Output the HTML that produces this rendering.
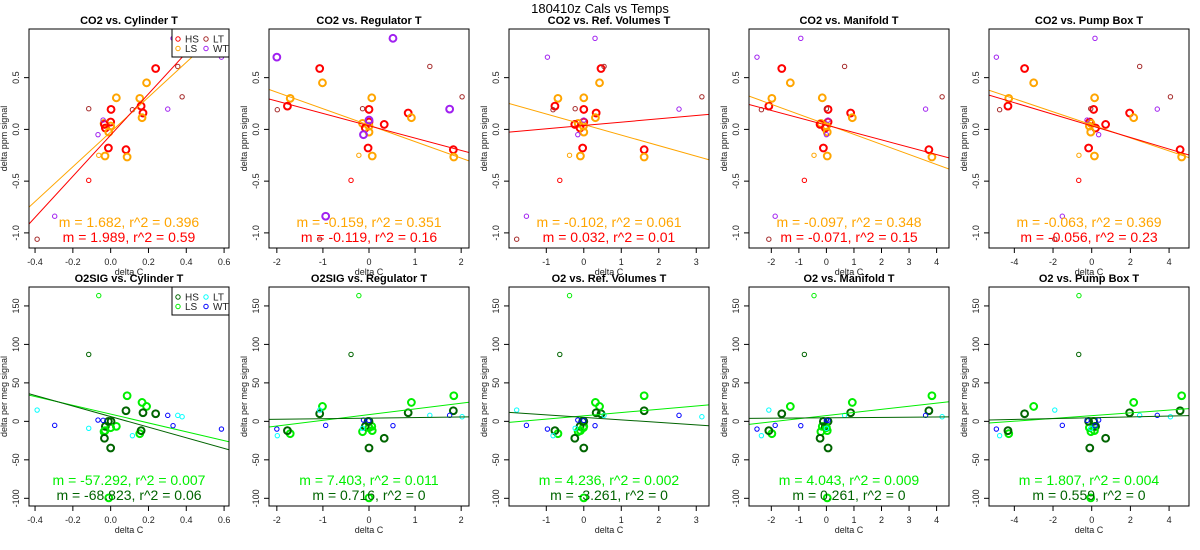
<!DOCTYPE html>
<html><head><meta charset="utf-8">
<style>
html,body{margin:0;padding:0;background:#fff;}
svg{display:block;font-family:"Liberation Sans",Arial,sans-serif;}
</style></head>
<body>
<svg id="chart" width="1200" height="550" viewBox="0 0 1200 550" xmlns="http://www.w3.org/2000/svg">
<rect width="1200" height="550" fill="#fff"/>
<text x="600" y="13" text-anchor="middle" font-size="13">180410z   Cals vs Temps</text>
</svg>
<script>
// ---- data ----
const groups = ['HS','LS','LS','LS','HS','HS','HS','LS','HS','LS','HS','LS','LS','HS','HS','LS','LS','HS','LT','LT','LT','LT','LT','WT','WT','WT','WT','WT','WT','HS','LS'];
const thick  = [1,1,1,1,1,1,1,1,1,1,1,1,1,1,1,1,1,1,0,0,0,0,0,0,0,0,0,0,0,0,0];
const yCO2 = [0.588,0.45,0.305,0.30,0.193,0.225,0.158,0.113,0.071,0.058,0.013,0.032,-0.026,-0.18,-0.196,-0.257,-0.267,0.048,0.2,0.19,0.608,0.315,-1.061,0.09,-0.051,0.196,0.698,-0.839,0.88,-0.492,-0.25];
const yO2  = [9.9,19.4,-6.5,-16,0,-12.1,11.2,24.6,-34.6,-13.4,-6.5,-8.2,-99.4,0,13.8,-12,33.3,-22,-9,-18.6,7.8,6,14.7,1.3,1.7,7.8,-10,-5.2,-5.6,87,163.4];
const xCylinder = [0.238,0.19,0.03,0.154,0.002,0.161,0.171,0.166,0.0,-0.035,-0.028,0.0,-0.01,-0.012,0.081,-0.03,0.087,-0.033,-0.116,0.115,0.355,0.378,-0.389,-0.04,-0.067,0.302,0.586,-0.296,0.33,-0.116,-0.063];
const xRegulator = [-1.07,-1.01,0.06,-1.71,0.0,-1.77,0.85,0.92,0.0,-0.14,-0.08,0.0,0.0,-0.02,1.83,0.07,1.84,0.33,-0.14,-1.99,1.32,2.02,-1.07,0,-0.12,1.75,-2.0,-0.94,0.52,-0.39,-0.22];
const xRefVol = [0.46,0.42,0.0,-0.69,0.0,-0.77,0.33,0.31,0.0,-0.15,-0.1,-0.01,0.0,-0.03,1.61,-0.09,1.61,-0.24,-0.23,-0.82,0.54,3.15,-1.79,0,-0.16,2.54,-0.97,-1.53,0.3,-0.64,-0.38];
const xManifold = [-1.62,-1.31,-0.15,-1.98,0.06,-2.09,0.88,0.94,0.06,-0.2,-0.04,0,0.03,-0.11,3.72,0.03,3.83,-0.23,0,-2.36,0.66,4.2,-2.09,0.06,0,3.6,-2.52,-1.86,-0.93,-0.8,-0.45];
const xPumpBox = [-3.47,-3.0,0.15,-4.29,0.1,-4.33,1.96,2.17,-0.1,-0.04,0.2,-0.12,-0.05,-0.16,4.57,0.14,4.65,0.72,-0.05,-4.76,2.48,4.07,-1.91,-0.24,0.36,3.39,-4.93,-1.52,0.17,-0.67,-0.66];
const xSets = [xCylinder,xRegulator,xRefVol,xManifold,xPumpBox];
const xNames = ['Cylinder T','Regulator T','Ref. Volumes T','Manifold T','Pump Box T'];
const xTicks = [[-0.4,-0.2,0.0,0.2,0.4,0.6],[-2,-1,0,1,2],[-1,0,1,2,3],[-2,-1,0,1,2,3,4],[-4,-2,0,2,4]];
const xTickLabels = [['-0.4','-0.2','0.0','0.2','0.4','0.6'],['-2','-1','0','1','2'],['-1','0','1','2','3'],['-2','-1','0','1','2','3','4'],['-4','-2','0','2','4']];
const yTicksCO2 = [-1.0,-0.5,0.0,0.5];
const yTickLabelsCO2 = ['-1.0','-0.5','0.0','0.5'];
const yTicksO2 = [-100,-50,0,50,100,150];
const yTickLabelsO2 = ['-100','-50','0','50','100','150'];
// regression: slope, intercept, r^2 text
const slopeHS_CO2 = [1.989,-0.119,0.032,-0.071,-0.056];
const interHS_CO2 = [-0.055,0.035,0.038,0.041,0.034];
const r2HS_CO2 = ['0.59','0.16','0.01','0.15','0.23'];
const slopeLS_CO2 = [1.682,-0.159,-0.102,-0.097,-0.063];
const interLS_CO2 = [-0.025,0.041,0.047,0.049,0.044];
const r2LS_CO2 = ['0.396','0.351','0.061','0.348','0.369'];
const slopeHS_O2 = [-68.823,0.716,-3.261,0.261,0.559];
const interHS_O2 = [6.2,4.2,5.2,4.6,4.7];
const r2HS_O2 = ['0.06','0','0','0','0'];
const slopeLS_O2 = [-57.292,7.403,4.236,4.043,1.807];
const interLS_O2 = [9.4,8.8,7.2,7.5,7.4];
const r2LS_O2 = ['0.007','0.011','0.002','0.009','0.004'];
const slopeFmtHS_CO2 = ['1.989','-0.119','0.032','-0.071','-0.056'];
const slopeFmtLS_CO2 = ['1.682','-0.159','-0.102','-0.097','-0.063'];
const slopeFmtHS_O2 = ['-68.823','0.716','-3.261','0.261','0.559'];
const slopeFmtLS_O2 = ['-57.292','7.403','4.236','4.043','1.807'];

// ---- layout ----
const NS='http://www.w3.org/2000/svg';
const svg=document.getElementById('chart');
const xRanges=[[-0.432,0.626],[-2.17,2.17],[-1.995,3.34],[-2.81,4.45],[-5.31,5.03]];
const rows=[
 {y0:29,y1:248,yr:[-1.146,0.97],ys:yCO2,ticks:yTicksCO2,tl:yTickLabelsCO2,ylab:'delta ppm signal',pre:['CO2','CO2','CO2','CO2','CO2'],
  col:{HS:'#ff0000',LS:'#ffa500',LT:'#a52a2a',WT:'#a020f0'},sH:slopeHS_CO2,iH:interHS_CO2,rH:r2HS_CO2,sL:slopeLS_CO2,iL:interLS_CO2,rL:r2LS_CO2,fH:slopeFmtHS_CO2,fL:slopeFmtLS_CO2},
 {y0:287,y1:506,yr:[-110,174.6],ys:yO2,ticks:yTicksO2,tl:yTickLabelsO2,ylab:'delta per meg signal',pre:['O2SIG','O2SIG','O2','O2','O2'],
  col:{HS:'#006400',LS:'#00ee00',LT:'#00ffff',WT:'#0000ff'},sH:slopeHS_O2,iH:interHS_O2,rH:r2HS_O2,sL:slopeLS_O2,iL:interLS_O2,rL:r2LS_O2,fH:slopeFmtHS_O2,fL:slopeFmtLS_O2}
];
function el(tag,attrs,parent){const e=document.createElementNS(NS,tag);for(const k in attrs)e.setAttribute(k,attrs[k]);(parent||svg).appendChild(e);return e;}

rows.forEach((row,ri)=>{
 for(let p=0;p<5;p++){
  const x0=240*p+29,x1=x0+200,y0=row.y0,y1=row.y1,xr=xRanges[p];
  const sx=v=>x0+(v-xr[0])/(xr[1]-xr[0])*200;
  const sy=v=>y1-(v-row.yr[0])/(row.yr[1]-row.yr[0])*(y1-y0);
  const g=el('g',{});
  
  
  const cid='clip'+ri+p;
  const cp=el('clipPath',{id:cid},g);el('rect',{x:x0,y:y0,width:200,height:y1-y0},cp);
  const t=el('text',{x:x0+100,y:y0-5,'text-anchor':'middle','font-size':'11','font-weight':'bold'},g);
  t.textContent=row.pre[p]+' vs. '+xNames[p];
  
  
  // x ticks
  xTicks[p].forEach((v,i)=>{
   const X=sx(v);
   el('line',{x1:X,x2:X,y1:y1,y2:y1+5,stroke:'#000','stroke-width':1},g);
   const tt=el('text',{x:X,y:y1+17,'text-anchor':'middle','font-size':'9',fill:'#222'},g);
   tt.textContent=xTickLabels[p][i];
   
   
  });
  const xl=el('text',{x:x0+100,y:y1+27,'text-anchor':'middle','font-size':'9',fill:'#222'},g);
  xl.textContent='delta C';
  
  
  row.ticks.forEach((v,i)=>{
   const Y=sy(v);
   el('line',{x1:x0-5,x2:x0,y1:Y,y2:Y,stroke:'#000','stroke-width':1},g);
   const tt=el('text',{x:x0-10,y:Y,'text-anchor':'middle','font-size':'9',fill:'#222',transform:'rotate(-90 '+(x0-10)+' '+Y+')'},g);
   tt.textContent=row.tl[i];
   
   
  });
  const yc=(y0+y1)/2;
  const yl=el('text',{x:x0-22,y:yc,'text-anchor':'middle','font-size':'9',fill:'#222',transform:'rotate(-90 '+(x0-22)+' '+yc+')'},g);
  yl.textContent=row.ylab;
  
  
  // points
  const pg=el('g',{'clip-path':'url(#'+cid+')'},g);
  const xs=xSets[p];
  for(let i=0;i<groups.length;i++){
   const gr=groups[i];
   const big=thick[i]||(ri===0&&p===1&&gr==='WT');
   const c=el('circle',{cx:sx(xs[i]),cy:sy(row.ys[i]),r:big?3.4:2.2,fill:'none',stroke:row.col[gr],'stroke-width':big?2:1},pg);
   
   
  }
  // regression lines
  [[row.sL,row.iL,'LS'],[row.sH,row.iH,'HS']].forEach(([s,b,gr])=>{
   const l=el('line',{x1:sx(xr[0]),y1:sy(b[p]+s[p]*xr[0]),x2:sx(xr[1]),y2:sy(b[p]+s[p]*xr[1]),stroke:row.col[gr],'stroke-width':1},pg);
   
   
  });
  el('rect',{x:x0,y:y0,width:200,height:y1-y0,fill:'none',stroke:'#000','stroke-width':1},g);
  // stats
  const s1=el('text',{x:x0+100,y:y1-21,'text-anchor':'middle','font-size':'14',fill:row.col.LS},g);
  s1.textContent='m = '+row.fL[p]+', r^2 = '+row.rL[p];
  
  
  const s2=el('text',{x:x0+100,y:y1-6,'text-anchor':'middle','font-size':'14',fill:row.col.HS},g);
  s2.textContent='m = '+row.fH[p]+', r^2 = '+row.rH[p];
  
  
  // legend
  if(p===0){
   const lg=el('g',{},g);
   
   
   el('rect',{x:172,y:y0,width:57,height:28,fill:'#fff',stroke:'#000','stroke-width':1},lg);
   [['HS',178,y0+10],['LS',178,y0+19.5],['LT',206,y0+10],['WT',206,y0+19.5]].forEach(([n,lx,ly])=>{
    el('circle',{cx:lx,cy:ly,r:2.2,fill:'none',stroke:row.col[n],'stroke-width':1},lg);
    const lt=el('text',{x:lx+7,y:ly+3.5,'font-size':'10',fill:'#222'},lg);
    lt.textContent=n;
    
    
   });
  }
 }
});
</script>
</body></html>
